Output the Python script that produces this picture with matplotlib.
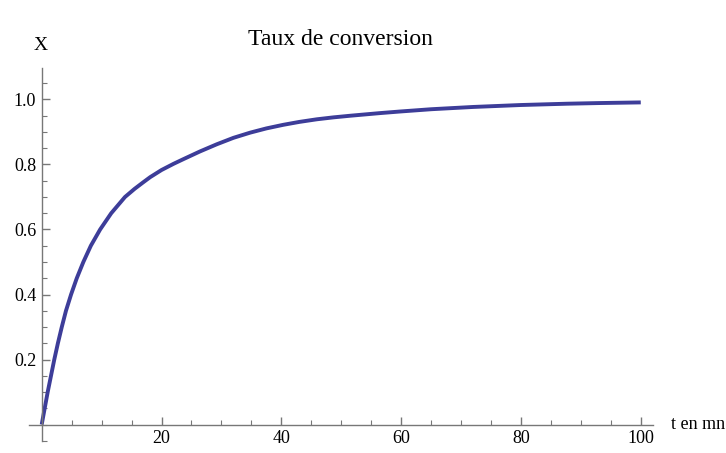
import matplotlib
matplotlib.use('Agg')
import matplotlib.pyplot as plt
from matplotlib.ticker import MultipleLocator, FixedLocator

plt.rcParams['font.family'] = ['Liberation Serif', 'DejaVu Serif']

# valeurs
t_mn = [0, 0.5, 1.0, 1.55, 2.1, 2.7, 3.35, 4.05, 4.9, 5.85, 6.95, 8.2, 9.75,
        11.6, 13.9, 15.5, 17.0, 18.1, 20.0, 22.0, 23.6, 26.4, 29.2, 32.0, 34.8,
        37.5, 40.3, 43.0, 45.9, 48.7, 51.5, 56.4, 59.8, 65, 72, 80, 87.7,
        93, 100]
taux = [0, 0.05, 0.10, 0.15, 0.20, 0.25, 0.30, 0.35, 0.40, 0.45, 0.50, 0.55,
        0.60, 0.65, 0.70, 0.725, 0.746, 0.761, 0.783, 0.802, 0.816, 0.840, 0.862,
        0.882, 0.898, 0.911, 0.922, 0.931, 0.939, 0.945, 0.950, 0.958, 0.963,
        0.970, 0.977, 0.983, 0.987, 0.989, 0.991]
x_ticks = [20, 40, 60, 80, 100]
y_ticks = [0.2, 0.4, 0.6, 0.8, 1.0]

fig = plt.figure(figsize=(7.26, 4.53), dpi=100)
ax = fig.add_axes([0.0393, 0.027, 0.8598, 0.8237])

ax.plot(t_mn, taux, color='#3d3d99', lw=2.8, solid_capstyle='butt',
        solid_joinstyle='round', clip_on=False)

ax.set_xlim(-2.2, 102)
ax.set_ylim(-0.05, 1.098)

# axes style Mathematica
for s in ['top', 'right']:
    ax.spines[s].set_visible(False)
ax.spines['left'].set_position(('data', 0))
ax.spines['bottom'].set_position(('data', 0))
for s in ['left', 'bottom']:
    ax.spines[s].set_color('#777777')
    ax.spines[s].set_linewidth(1.0)

ax.xaxis.set_major_locator(FixedLocator(x_ticks))
ax.xaxis.set_minor_locator(MultipleLocator(5))
ax.yaxis.set_major_locator(FixedLocator(y_ticks))
ax.yaxis.set_minor_locator(MultipleLocator(0.05))
ax.set_xticklabels([str(v) for v in x_ticks])
ax.set_yticklabels(['%.1f' % v for v in y_ticks])
ax.tick_params(which='major', direction='in', length=6, width=1, color='#777777',
               labelsize=13, pad=4)
ax.tick_params(which='minor', direction='in', length=3.5, width=0.8, color='#777777')

ax.set_title('Taux de conversion', fontsize=17, pad=16)
fig.text(0.0565, 0.900, 'X', fontsize=14, ha='center', va='center')
fig.text(0.924, 0.062, 't en mn', fontsize=13, ha='left', va='center')

fig.savefig('out.png', dpi=100)
